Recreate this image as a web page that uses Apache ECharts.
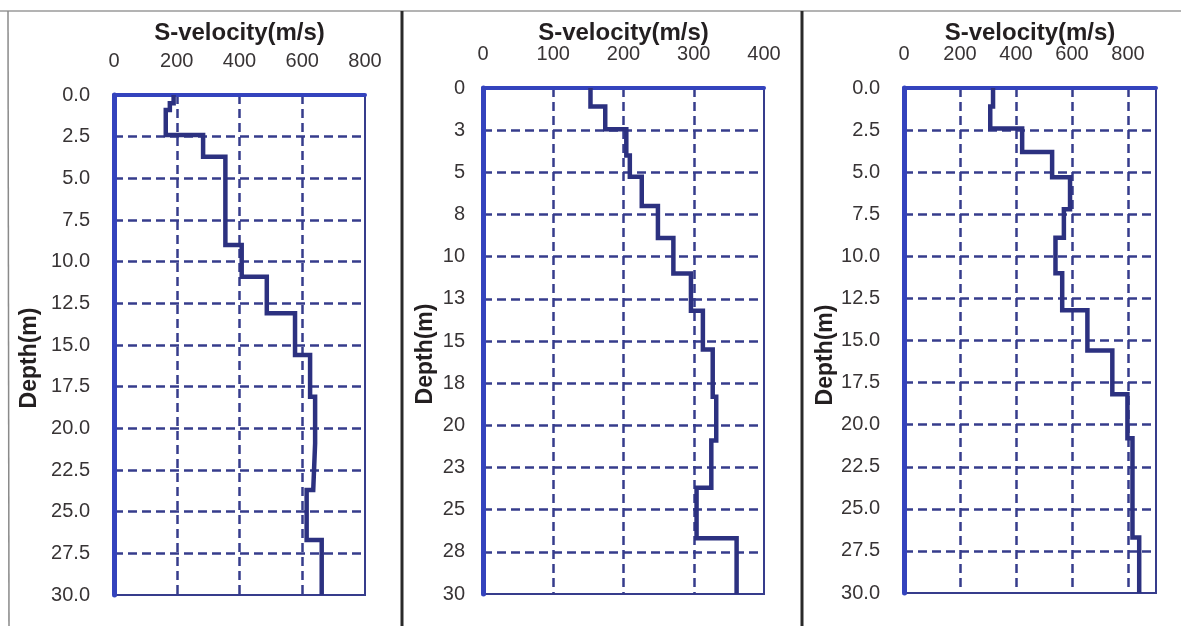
<!DOCTYPE html>
<html>
<head>
<meta charset="utf-8">
<title>S-velocity profiles</title>
<script src="https://cdn.jsdelivr.net/npm/echarts@6/dist/echarts.min.js"></script>
<style>
  html, body { margin: 0; padding: 0; background: #fff; }
  #chart { width: 1181px; height: 626px; }
</style>
</head>
<body>
<div id="chart"></div>
<script>
    // layer tops (m) and shear wave velocity (m/s) of each layer, bottom of last layer = 30 m
    var depth_1 = [0, 0.5, 0.9, 2.4, 3.7, 9.0, 10.9, 13.1, 15.6, 18.1, 20.9, 23.7, 26.7];
    var vs_1 = [190, 178, 165, 284, 355, 407, 487, 577, 625, 641, 635, 614, 662];

    var depth_2 = [0, 1.1, 2.45, 4.0, 5.26, 7.0, 8.9, 11.0, 13.2, 15.5, 18.3, 20.9, 23.7, 26.7];
    var vs_2 = [153, 174, 204, 209, 226, 249, 271, 296, 313, 327, 332, 325, 304, 361];

    var depth_3 = [0, 1.1, 2.4, 3.8, 5.3, 7.2, 8.9, 11.0, 13.2, 15.6, 18.2, 20.8, 26.7];
    var vs_3 = [318, 308, 422, 529, 593, 571, 541, 565, 655, 744, 798, 816, 840];

    var max_depth = 30;
    var x_max_list = [800, 400, 900];
    var x_interval_list = [200, 100, 200];

    var grid_color = '#363c8c';
    var axis_color = '#3443bd';
    var line_color = '#2c3180';

    function make_steps(depth_list, vs_list){
        var pts = [];
        for (var i = 0; i < depth_list.length; i++) {
            var bottom = (i < depth_list.length - 1) ? depth_list[i + 1] : max_depth;
            pts.push([vs_list[i], depth_list[i]]);
            pts.push([vs_list[i], bottom]);
        }
        return pts;
    }

    var grids = [
        {left: 114, top: 95, width: 251, height: 500},
        {left: 483, top: 88, width: 281, height: 506},
        {left: 904, top: 88, width: 252, height: 505}
    ];
    var y_label_margin = [24, 18, 24];
    var x_name_gap = [50, 43, 43];

    var grid_list = [], x_axes = [], y_axes = [];
    for (var k = 0; k < 3; k++) {
        grid_list.push({
            left: grids[k].left, top: grids[k].top, width: grids[k].width, height: grids[k].height,
            show: true, borderColor: grid_color, borderWidth: 2, backgroundColor: 'transparent'
        });
        x_axes.push({
            type: 'value',
            gridIndex: k,
            position: 'top',
            min: 0,
            max: x_max_list[k],
            interval: x_interval_list[k],
            name: 'S-velocity(m/s)',
            nameLocation: 'middle',
            nameGap: x_name_gap[k],
            nameMoveOverlap: false,
            nameTextStyle: {fontFamily: 'Liberation Sans', fontWeight: 'bold', fontSize: 24, color: '#231f20'},
            axisLine: {show: true, lineStyle: {color: axis_color, width: 4}},
            axisTick: {show: false},
            axisLabel: {
                fontFamily: 'Liberation Sans', fontSize: 20, color: '#383435', margin: 24,
                showMinLabel: true, showMaxLabel: k < 2
            },
            splitLine: {show: true, showMinLine: false, showMaxLine: false,
                        lineStyle: {color: grid_color, width: 2.5, type: [9, 5]}}
        });
        y_axes.push({
            type: 'value',
            gridIndex: k,
            inverse: true,
            min: 0,
            max: max_depth,
            interval: 2.5,
            axisLine: {show: true, onZero: false, lineStyle: {color: axis_color, width: 5}},
            axisTick: {show: false},
            axisLabel: {
                fontFamily: 'Liberation Sans', fontSize: 20, color: '#383435', margin: y_label_margin[k],
                formatter: (k == 1) ? function (v) { return String(Math.round(v)); }
                                    : function (v) { return v.toFixed(1); }
            },
            splitLine: {show: true, showMinLine: false, showMaxLine: false,
                        lineStyle: {color: grid_color, width: 2.5, type: [9, 5]}}
        });
    }

    var series_list = [
        {type: 'line', xAxisIndex: 0, yAxisIndex: 0, data: make_steps(depth_1, vs_1)},
        {type: 'line', xAxisIndex: 1, yAxisIndex: 1, data: make_steps(depth_2, vs_2)},
        {type: 'line', xAxisIndex: 2, yAxisIndex: 2, data: make_steps(depth_3, vs_3)}
    ];
    for (var s = 0; s < series_list.length; s++) {
        series_list[s].symbol = 'none';
        series_list[s].silent = true;
        series_list[s].lineStyle = {color: line_color, width: 4.5, join: 'miter'};
    }

    var depth_label_pos = [[30, 358], [426, 354], [826, 355]];
    var graphic_list = [
        {type: 'line', shape: {x1: 0, y1: 11, x2: 1181, y2: 11}, style: {stroke: '#9a9a9a', lineWidth: 1.5}},
        {type: 'line', shape: {x1: 8, y1: 11, x2: 9, y2: 626}, style: {stroke: '#8a8a8a', lineWidth: 1.5}},
        {type: 'line', shape: {x1: 402, y1: 11, x2: 402, y2: 626}, style: {stroke: '#2a2a2a', lineWidth: 3}},
        {type: 'line', shape: {x1: 802, y1: 11, x2: 802, y2: 626}, style: {stroke: '#2a2a2a', lineWidth: 3}}
    ];
    for (var d = 0; d < depth_label_pos.length; d++) {
        graphic_list.push({
            type: 'text',
            x: depth_label_pos[d][0],
            y: depth_label_pos[d][1],
            rotation: Math.PI / 2,
            style: {
                text: 'Depth(m)', x: 0, y: 0,
                textAlign: 'center', textVerticalAlign: 'middle',
                fontFamily: 'Liberation Sans', fontWeight: 'bold', fontSize: 23, fill: '#231f20'
            }
        });
    }

    var myChart = echarts.init(document.getElementById('chart'), null, {renderer: 'canvas'});
    var option = {
        backgroundColor: '#ffffff',
        animation: false,
        grid: grid_list,
        xAxis: x_axes,
        yAxis: y_axes,
        series: series_list,
        graphic: graphic_list
    };
    myChart.setOption(option);
</script>
</body>
</html>
